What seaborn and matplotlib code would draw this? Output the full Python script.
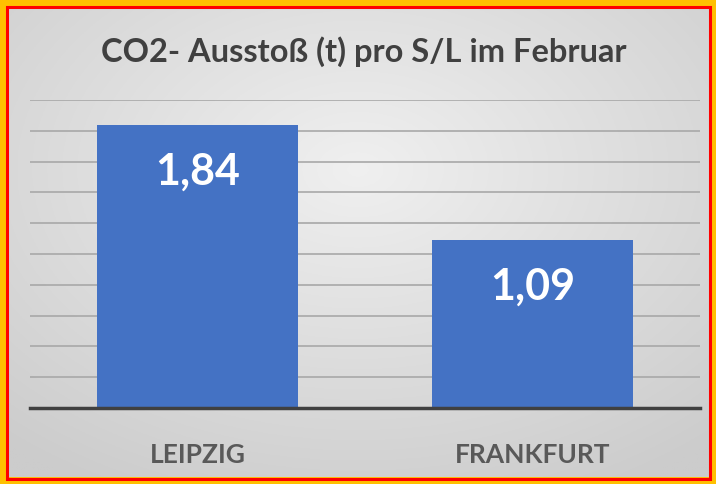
import numpy as np
import pandas as pd
import matplotlib
matplotlib.use("Agg")
import matplotlib.pyplot as plt
from matplotlib.patches import Rectangle
import seaborn as sns

# Data
categories = ["LEIPZIG", "FRANKFURT"]
values = [1.84, 1.09]
value_labels = ["1,84", "1,09"]
title = "CO2- Ausstoß (t) pro S/L im Februar"

sns.set_theme(style="white")
plt.rcParams['font.family'] = ['Lato', 'DejaVu Sans']

W, H = 716, 484
fig = plt.figure(figsize=(W / 100, H / 100), dpi=100)

# background gradient
bg = fig.add_axes([0, 0, 1, 1], zorder=0)
yy, xx = np.mgrid[0:1:300j, 0:1:400j]
r = np.sqrt(((xx - 0.5) / 0.75) ** 2 + ((yy - 0.35) / 0.75) ** 2)
r = np.clip(r, 0, 1)
c0 = np.array([0.94, 0.94, 0.94])
c1 = np.array([0.80, 0.80, 0.80])
img = c0[None, None, :] * (1 - r[..., None]) + c1[None, None, :] * r[..., None]
bg.imshow(img, extent=[0, 1, 0, 1], aspect="auto", origin="upper")
bg.set_axis_off()

# frame: orange outer, red inner line
fig.patches.append(Rectangle((0, 0), 1, 1, transform=fig.transFigure, fill=False,
                             edgecolor="#FFC000", linewidth=10, zorder=5))
fig.patches.append(Rectangle((6.5 / W, 5.5 / H), 1 - 13 / W, 1 - 12 / H, transform=fig.transFigure,
                             fill=False, edgecolor="#FF0000", linewidth=2.2, zorder=6))

left, right = 30 / W, 700 / W
bottom, top = (H - 408) / H, (H - 100) / H
ax = fig.add_axes([left, bottom, right - left, top - bottom], zorder=2)
ax.patch.set_alpha(0)

df = pd.DataFrame({"city": categories, "value": values})
sns.barplot(data=df, x="city", y="value", hue="city", palette=["#4472C4", "#4472C4"],
            width=0.6, legend=False, ax=ax, saturation=1, zorder=3, linewidth=0,
            edgecolor="none")

ax.set_ylim(0, 2.0)
ax.set_xlim(-0.5, 1.5)
ax.set_yticks(np.arange(0, 2.01, 0.2))
ax.yaxis.grid(True, color="#a8a8a8", linewidth=1.2, zorder=0)
ax.set_axisbelow(True)
ax.tick_params(axis="y", left=False, labelleft=False)
ax.tick_params(axis="x", bottom=False, pad=19)
for s in ["top", "right", "left"]:
    ax.spines[s].set_visible(False)
ax.spines["bottom"].set_color("#404040")
ax.spines["bottom"].set_linewidth(2.5)
ax.spines["bottom"].set_zorder(4)
ax.set_xlabel("")
ax.set_ylabel("")
ax.set_xticks(range(len(categories)))
ax.set_xticklabels(categories, fontsize=19, fontweight="bold", color="#595959")

for i, (v, t) in enumerate(zip(values, value_labels)):
    ax.annotate(t, xy=(i, v), xytext=(0, -47), textcoords="offset pixels",
                ha="center", va="center", fontsize=31, fontweight="bold", color="white", zorder=5)

fig.text(364 / W, 1 - 52 / H, title, ha="center", va="center", fontsize=23.5,
         fontweight="bold", color="#404040", zorder=3)

fig.savefig("out.png", dpi=100)
